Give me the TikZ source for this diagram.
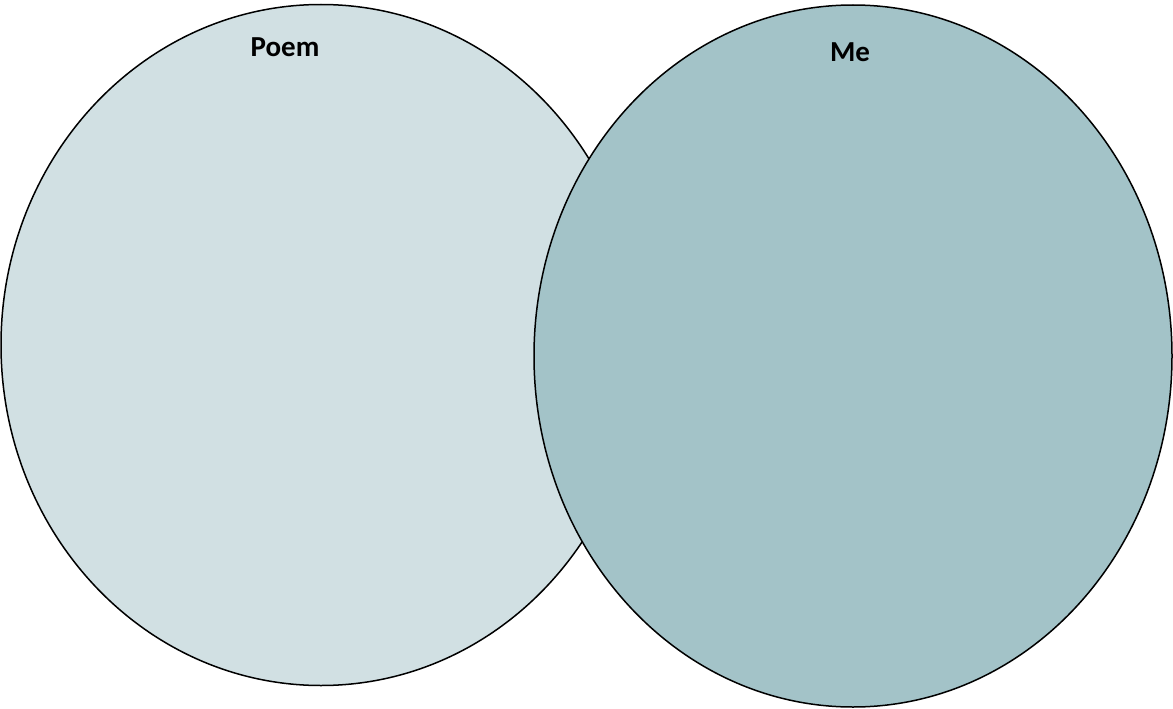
\documentclass[tikz,border=0pt]{standalone}
\usepackage{fontspec}
\setmainfont{Carlito}
\usetikzlibrary{shapes.geometric}

\definecolor{poemfill}{HTML}{D1E0E3}
\definecolor{mefill}{HTML}{A3C3C8}

\begin{document}
\begin{tikzpicture}[
						x=1pt, y=-1pt,
						every node/.style={font=\fontsize{29}{34}\selectfont\bfseries},
						circlebox/.style={ellipse, draw=black, line width=1.5pt, inner sep=0pt},
						line cap=round,
						line join=round
						]
						
						% Frame
						\useasboundingbox (0,0) rectangle (1173,709);
						
						% Left circle
						\node[circlebox, fill=poemfill, minimum width=640, minimum height=681]
						(poem) at (321,345) {};
						
						% Right circle
						\node[circlebox, fill=mefill, minimum width=638, minimum height=702]
						(me) at (853,356) {};
						
						% Titles
						\node (poemlabel) at (285,47) {Poem};
						\node (melabel) at (850,52) {Me};
						
					\end{tikzpicture}
\end{document}
